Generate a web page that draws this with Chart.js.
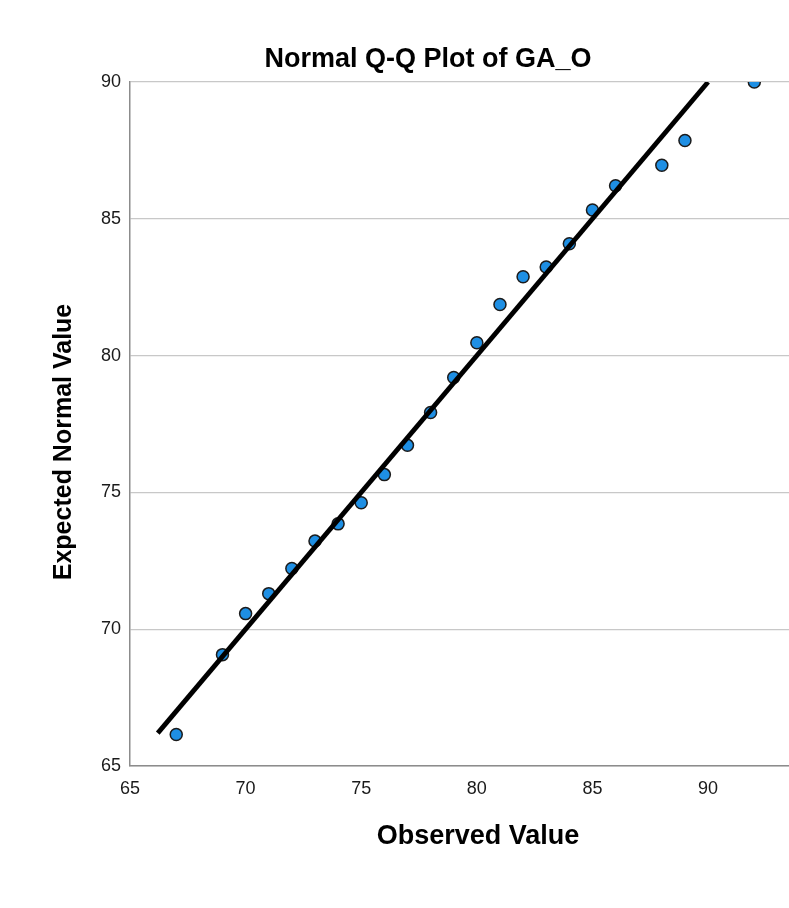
<!DOCTYPE html>
<html>
<head>
<meta charset="utf-8">
<script src="https://cdn.jsdelivr.net/npm/chart.js@4.4.1/dist/chart.umd.min.js"></script>
<style>
  body { margin: 0; background: #fff; }
  #wrap { width: 789px; height: 908px; }
</style>
</head>
<body>
<div id="wrap"><canvas id="qq" width="789" height="908"></canvas></div>
<script>
// observed values and their expected normal values
const observed = [67, 69, 70, 71, 72, 73, 74, 75, 76, 77, 78, 79, 80, 81, 82, 83, 84, 85, 86, 88, 89, 92];
const expected = [66.15, 69.07, 70.57, 71.3, 72.22, 73.22, 73.85, 74.62, 75.65, 76.72, 77.92, 79.2, 80.47, 81.87, 82.88, 83.24, 84.09, 85.32, 86.21, 86.96, 87.86, 90.0];

// reference line y = x
const lineX = [66.2, 90];
const lineY = [66.2, 90];

const xTicks = [65, 70, 75, 80, 85, 90];
const yTicks = [65, 70, 75, 80, 85, 90];

const FONT = '"Liberation Sans", Arial, sans-serif';

const textPlugin = {
    id: "texts",
    afterDraw(chart) {
        const ctx = chart.ctx;
        ctx.save();
        ctx.fillStyle = "#000";
        ctx.textAlign = "center";
        ctx.textBaseline = "middle";
        ctx.font = "bold 27px " + FONT;
        ctx.fillText("Normal Q-Q Plot of GA_O", 428, 60);
        ctx.font = "bold 27px " + FONT;
        ctx.fillText("Observed Value", 478, 837);
        ctx.translate(64, 442);
        ctx.rotate(-Math.PI / 2);
        ctx.font = "bold 25px " + FONT;
        ctx.fillText("Expected Normal Value", 0, 0);
        ctx.restore();
    }
};

new Chart("qq", {
    type: "scatter",
    data: {
        datasets: [{
            type: "line",
            order: 0,
            data: lineX.map((x, i) => ({x: x, y: lineY[i]})),
            borderColor: "#000",
            borderWidth: 4.8,
            pointRadius: 0,
            fill: false,
            clip: 0
        }, {
            order: 1,
            data: observed.map((x, i) => ({x: x, y: expected[i]})),
            backgroundColor: "#1e8fe4",
            borderColor: "#1b1b1b",
            borderWidth: 1.5,
            pointRadius: 6,
            pointHoverRadius: 6,
            clip: 0
        }]
    },
    options: {
        responsive: false,
        animation: false,
        layout: { autoPadding: false, padding: { top: 82, left: 0, right: 0, bottom: 0 } },
        plugins: {
            legend: { display: false },
            tooltip: { enabled: false },
            title: { display: false }
        },
        scales: {
            x: {
                type: "linear",
                min: 65,
                max: 93.5,
                afterBuildTicks: function(axis) {
                    axis.ticks = xTicks.map(v => ({value: v}));
                },
                afterFit: function(axis) { axis.height = 142; },
                grid: { display: false, drawTicks: false },
                border: { display: true, color: "#8c8c8c", width: 1.5 },
                ticks: {
                    padding: 12,
                    color: "#1a1a1a",
                    font: { family: FONT, size: 18 },
                    maxRotation: 0
                }
            },
            y: {
                type: "linear",
                min: 65,
                max: 90,
                afterBuildTicks: function(axis) {
                    axis.ticks = yTicks.map(v => ({value: v}));
                },
                afterFit: function(axis) { axis.width = 130; },
                grid: { color: "#c8c8c8", lineWidth: 1.3, drawTicks: false },
                border: { display: true, color: "#8c8c8c", width: 1.5 },
                ticks: {
                    padding: 9,
                    color: "#1a1a1a",
                    font: { family: FONT, size: 18 }
                }
            }
        }
    },
    plugins: [textPlugin]
});
</script>
</body>
</html>
